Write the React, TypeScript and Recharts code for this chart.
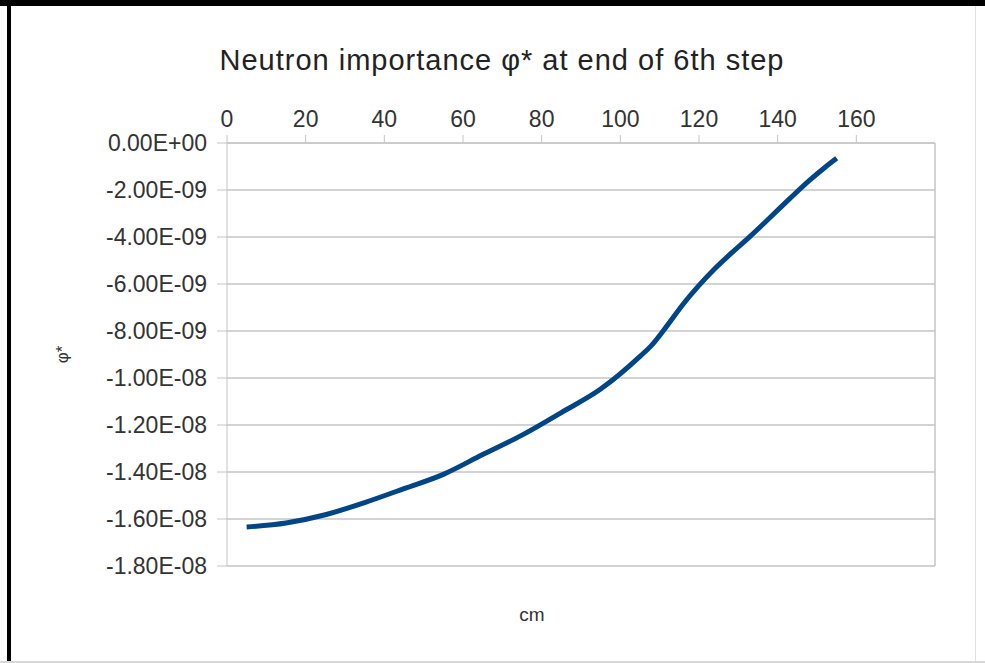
import {
  LineChart,
  Line,
  XAxis,
  YAxis,
  CartesianGrid,
  ReferenceLine,
} from "recharts";

// depth in cm
const positions = [
  5, 15, 25, 35, 45, 55, 65, 75, 85, 95, 105, 108, 112, 116, 120, 124, 128, 133, 138, 143, 148,
  152, 155,
];
// neutron importance phi*
const phiValues = [
  -1.634e-8, -1.617e-8, -1.582e-8, -1.53e-8, -1.471e-8, -1.41e-8, -1.326e-8, -1.243e-8,
  -1.147e-8, -1.047e-8, -9.08e-9, -8.6e-9, -7.75e-9, -6.85e-9, -6.06e-9, -5.35e-9, -4.72e-9,
  -3.97e-9, -3.18e-9, -2.38e-9, -1.6e-9, -1.04e-9, -6.5e-10,
];

const xTicks = [0, 20, 40, 60, 80, 100, 120, 140, 160];
const yTicks = [0, -2e-9, -4e-9, -6e-9, -8e-9, -1e-8, -1.2e-8, -1.4e-8, -1.6e-8, -1.8e-8];

const FONT = '"Liberation Sans", Arial, sans-serif';
const GRID = "#c4c4c4";

function sci(v: number) {
  if (v === 0) return "0.00E+00";
  const [m, e] = v.toExponential(2).split("e");
  const n = parseInt(e, 10);
  return `${m}E${n < 0 ? "-" : "+"}${String(Math.abs(n)).padStart(2, "0")}`;
}

const data = positions.map((x, i) => ({ x, phi: phiValues[i] }));

function YTitle(props: any) {
  const vb = props.viewBox;
  const cx = vb.x + 62;
  const cy = vb.y + vb.height / 2;
  return (
    <text
      x={cx}
      y={cy}
      transform={`rotate(-90, ${cx}, ${cy})`}
      textAnchor="middle"
      dominantBaseline="central"
      fontSize={17}
      fontFamily={FONT}
      fill="#333"
    >
      φ*
    </text>
  );
}

export default function App() {
  return (
    <div
      style={{
        position: "absolute",
        left: 0,
        top: 0,
        width: 985,
        height: 663,
        background: "#fff",
        overflow: "hidden",
      }}
    >
      <LineChart
        width={985}
        height={663}
        data={data}
        margin={{ top: 100, right: 50, bottom: 97, left: 0 }}
      >
        <CartesianGrid vertical={false} stroke={GRID} strokeWidth={1.5} />
        <XAxis
          dataKey="x"
          type="number"
          orientation="top"
          domain={[0, 180]}
          ticks={xTicks}
          height={43}
          tickSize={8}
          tickMargin={8}
          stroke={GRID}
          tick={{ fill: "#333", fontSize: 23, fontFamily: FONT }}
        />
        <YAxis
          type="number"
          domain={[-1.8e-8, 0]}
          ticks={yTicks}
          width={227}
          tickSize={10}
          tickMargin={10}
          stroke={GRID}
          tickFormatter={sci}
          tick={{ fill: "#333", fontSize: 23, fontFamily: FONT }}
          label={(p: any) => <YTitle {...p} />}
        />
        <ReferenceLine x={180} stroke={GRID} strokeWidth={1.5} />
        <Line
          type="monotone"
          dataKey="phi"
          stroke="#004586"
          strokeWidth={5}
          dot={false}
          isAnimationActive={false}
        />
      </LineChart>
      <svg
        width={985}
        height={663}
        style={{ position: "absolute", left: 0, top: 0, pointerEvents: "none" }}
      >
        <text
          x={502}
          y={70}
          textAnchor="middle"
          fontSize={29}
          letterSpacing={1}
          fontFamily={FONT}
          fill="#222"
        >
          Neutron importance φ* at end of 6th step
        </text>
        <text x={532} y={621} textAnchor="middle" fontSize={19} fontFamily={FONT} fill="#333">
          cm
        </text>
      </svg>
      <div style={{ position: "absolute", left: 0, top: 0, width: 985, height: 6, background: "#000" }} />
      <div style={{ position: "absolute", left: 7, top: 0, width: 4, height: 663, background: "#000" }} />
      <div style={{ position: "absolute", left: 975, top: 6, width: 1, height: 657, background: "#e0e0e0" }} />
      <div style={{ position: "absolute", left: 0, top: 661, width: 985, height: 2, background: "#d8d8d8" }} />
    </div>
  );
}
